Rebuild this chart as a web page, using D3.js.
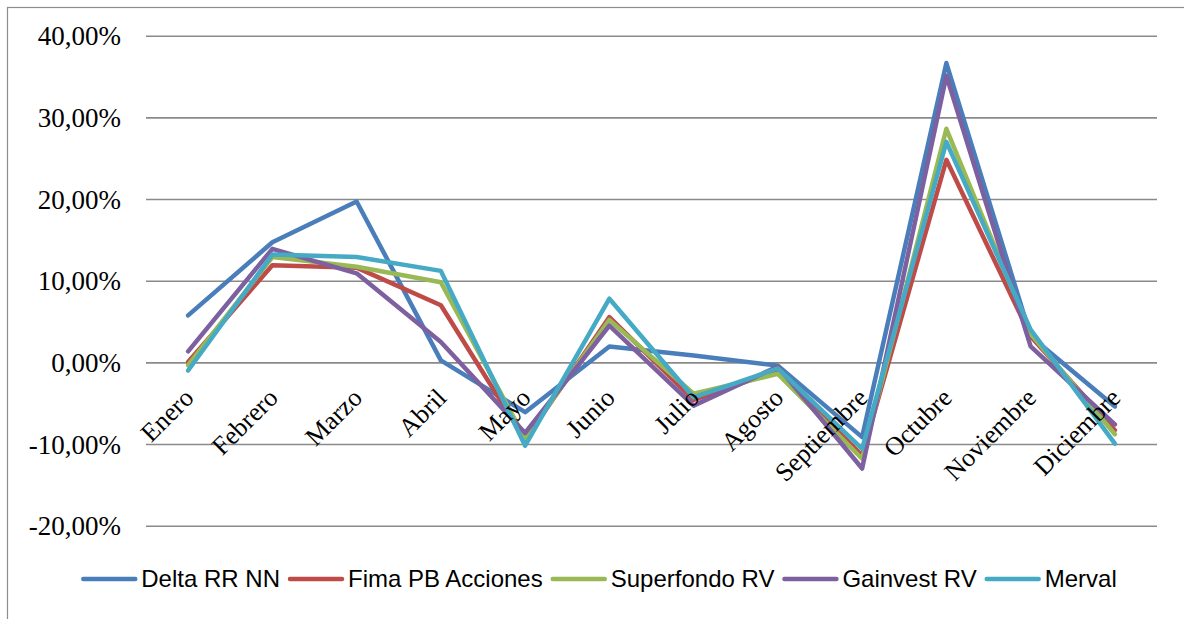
<!DOCTYPE html>
<html>
<head>
<meta charset="utf-8">
<script src="https://cdn.jsdelivr.net/npm/d3@7"></script>
<style>
    body { margin: 0; background: #ffffff; }
    svg { display: block; }
</style>
</head>
<body>
<svg id="chart" width="1184" height="619"></svg>
<script>
var meses = ["Enero", "Febrero", "Marzo", "Abril", "Mayo", "Junio", "Julio", "Agosto", "Septiembre", "Octubre", "Noviembre", "Diciembre"];
var series_names = ["Delta RR NN", "Fima PB Acciones", "Superfondo RV", "Gainvest RV", "Merval"];
var delta_rr_nn = [5.75, 14.7, 19.7, 0.25, -6.1, 1.95, 0.85, -0.4, -9.15, 36.65, 3.2, -5.4];
var fima_pb_acciones = [0.05, 11.9, 11.6, 7.0, -9.5, 5.55, -4.6, -1.0, -11.4, 24.8, 3.2, -8.3];
var superfondo_rv = [-0.35, 12.9, 11.7, 9.8, -9.3, 5.2, -3.85, -1.4, -11.8, 28.6, 3.5, -8.8];
var gainvest_rv = [1.35, 13.9, 10.9, 2.5, -8.65, 4.5, -5.3, -0.5, -13.0, 35.1, 1.95, -7.6];
var merval = [-1.0, 13.2, 12.9, 11.2, -10.2, 7.8, -4.3, -0.75, -10.6, 27.0, 4.0, -9.95];
var y_ticks = [-20, -10, 0, 10, 20, 30, 40];
var series_colors = ["#4a7ebb", "#be4b48", "#98b954", "#7d60a0", "#46aac5"];

var all_series = [delta_rr_nn, fima_pb_acciones, superfondo_rv, gainvest_rv, merval];

var plot = { left: 146, right: 1157, top: 35.7, bottom: 525.7 };

var svg = d3.select("#chart");

var locale = d3.formatLocale({ decimal: ",", thousands: ".", grouping: [3], currency: ["$", ""], minus: "-" });
var fmt = locale.format(".2f");

var x = d3.scalePoint()
    .domain(meses)
    .range([plot.left, plot.right])
    .padding(0.5);

var y = d3.scaleLinear()
    .domain([-20, 40])
    .range([plot.bottom, plot.top]);

// marco exterior
svg.append("rect")
    .attr("x", 7.5)
    .attr("y", 7.5)
    .attr("width", 1200)
    .attr("height", 700)
    .attr("fill", "none")
    .attr("stroke", "#8c8c8c")
    .attr("stroke-width", 1.2);

var yAxis = d3.axisLeft(y)
    .tickValues(y_ticks)
    .tickSize(-(plot.right - plot.left))
    .tickPadding(25)
    .tickFormat(function (d) { return fmt(d) + "%"; });

var gy = svg.append("g")
    .attr("transform", "translate(" + plot.left + ",0)")
    .call(yAxis);

gy.select(".domain").remove();
gy.selectAll(".tick line")
    .attr("stroke", "#8a8a8a")
    .attr("stroke-width", 1.6);
gy.selectAll(".tick text")
    .attr("dy", "0.34em")
    .style("font-family", "'Liberation Serif', serif")
    .style("font-size", "27px")
    .attr("fill", "#000000");

var line = d3.line()
    .x(function (d, i) { return x(meses[i]); })
    .y(function (d) { return y(d); });

svg.append("g")
    .selectAll("path")
    .data(all_series)
    .enter()
    .append("path")
    .attr("d", line)
    .attr("fill", "none")
    .attr("stroke", function (d, i) { return series_colors[i]; })
    .attr("stroke-width", 4.5)
    .attr("stroke-linejoin", "round")
    .attr("stroke-linecap", "round");

// etiquetas de meses (encima de las lineas)
svg.append("g")
    .selectAll("text")
    .data(meses)
    .enter()
    .append("text")
    .attr("transform", function (d) {
        return "translate(" + (x(d) + 7) + "," + (y(0) + 37) + ") rotate(-45)";
    })
    .attr("text-anchor", "end")
    .style("font-family", "'Liberation Serif', serif")
    .style("font-size", "26px")
    .attr("fill", "#000000")
    .text(function (d) { return d; });

// leyenda
var legend = svg.append("g");
var legend_line = 52;
var legend_gap = 6;
var legend_space = 10;
var legend_y = 579;

var items = legend.selectAll("g")
    .data(series_names)
    .enter()
    .append("g");

items.append("line")
    .attr("x1", 0)
    .attr("x2", legend_line)
    .attr("y1", 0)
    .attr("y2", 0)
    .attr("stroke", function (d, i) { return series_colors[i]; })
    .attr("stroke-width", 4.5)
    .attr("stroke-linecap", "round");

items.append("text")
    .attr("x", legend_line + legend_gap)
    .attr("y", 8)
    .style("font-family", "'Liberation Sans', Arial, sans-serif")
    .style("font-size", "24px")
    .attr("fill", "#000000")
    .text(function (d) { return d; });

var widths = [];
items.each(function () {
    var w = d3.select(this).select("text").node().getComputedTextLength();
    widths.push(legend_line + legend_gap + w);
});
var total = d3.sum(widths) + legend_space * (widths.length - 1);
var cur = 600 - total / 2;
items.attr("transform", function (d, i) {
    var t = "translate(" + cur + "," + legend_y + ")";
    cur += widths[i] + legend_space;
    return t;
});
</script>
</body>
</html>
